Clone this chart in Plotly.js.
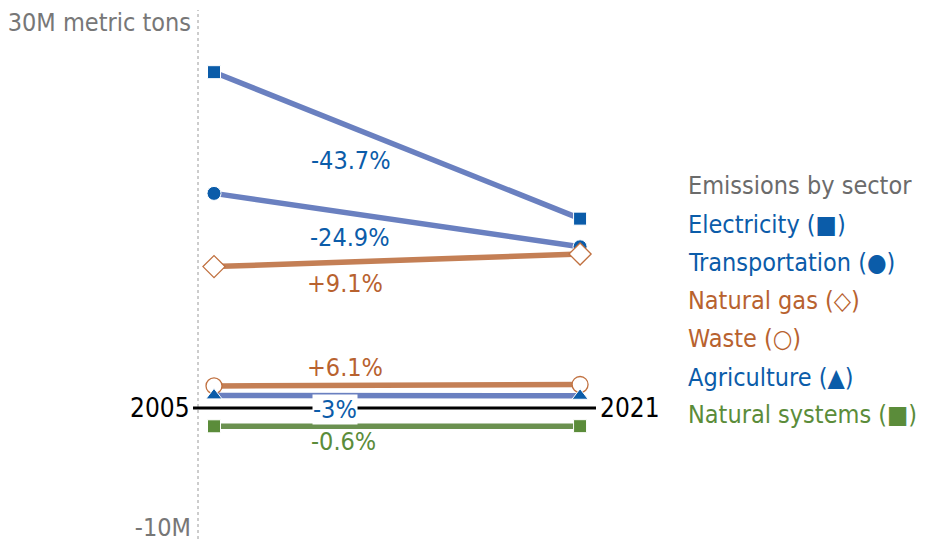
<!DOCTYPE html>
<html>
<head>
<meta charset="utf-8">
<script src="https://cdn.plot.ly/plotly-3.0.1.min.js"></script>
<style>html,body{margin:0;padding:0;background:#fff}#chart{width:948px;height:546px}</style>
</head>
<body>
<div id="chart"></div>
<script>
// Data (millions of metric tons)
const years = [2005, 2021];
const sectors = ["Electricity", "Transportation", "Natural gas", "Waste", "Agriculture", "Natural systems"];
const symbolsText = ["■", "●", "◇", "○", "▲", "■"];
const electricity = [26.6, 15.0];
const transportation = [17.0, 12.77];
const naturalGas = [11.2, 12.2];
const waste = [1.75, 1.86];
const agriculture = [1.0, 0.97];
const naturalSystems = [-1.45, -1.44];
const changeLabels = ["-43.7%", "-24.9%", "+9.1%", "+6.1%", "-3%", "-0.6%"];
const yTickVals = [30, -10];
const yTickText = ["30M metric tons", "-10M"];
const legendTitle = "Emissions by sector";

const FONT = '"DejaVu Sans Condensed", "Liberation Sans Narrow", "Liberation Sans", sans-serif';
const BLUE = "#0b5ca9", BLUE_LINE = "#6a80c0";
const ORANGE = "#b8622f", ORANGE_LINE = "#c47f55", ORANGE_MK = "#c0703f";
const GREEN = "#5b8c3a", GREEN_LINE = "#6b9150";

const seriesValues = [electricity, transportation, naturalGas, waste, agriculture, naturalSystems];
const lineColors = [BLUE_LINE, BLUE_LINE, ORANGE_LINE, ORANGE_LINE, BLUE_LINE, GREEN_LINE];
const textColors = [BLUE, BLUE, ORANGE, ORANGE, BLUE, GREEN];
const markers = [
  {symbol: "square", size: 13, color: BLUE, line: {color: "#fff", width: 1}},
  {symbol: "circle", size: 14, color: BLUE, line: {color: "#fff", width: 1}},
  {symbol: "diamond", size: 17, color: "#fff", line: {color: ORANGE_MK, width: 1.3}},
  {symbol: "circle", size: 16, color: "#fff", line: {color: ORANGE_MK, width: 1.3}},
  {symbol: "triangle-up", size: 14, color: BLUE, line: {color: "#fff", width: 1}},
  {symbol: "square", size: 13, color: GREEN, line: {color: "#fff", width: 1}}
];

const traces = sectors.map((s, i) => ({
  type: "scatter", mode: "lines+markers", name: s,
  x: years, y: seriesValues[i],
  line: {color: lineColors[i], width: 5.5},
  marker: markers[i],
  showlegend: false, hoverinfo: "skip"
}));

// label positions (style)
const labelPos = [[2011.0, 19.64], [2010.95, 13.47], [2010.73, 9.9], [2010.73, 3.17], [2010.3, -0.08], [2010.64, -2.69]];
const annotations = [];
changeLabels.forEach((t, i) => {
  annotations.push({
    x: labelPos[i][0], y: labelPos[i][1], xref: "x", yref: "y", text: t, showarrow: false,
    font: {family: FONT, size: 25, color: textColors[i]},
    bgcolor: i === 4 ? "#fff" : "rgba(0,0,0,0)", borderpad: 0
  });
});
annotations.push({x: -0.015, y: 0, xref: "paper", yref: "y", xanchor: "right", yanchor: "middle",
  text: String(years[0]), showarrow: false, font: {family: FONT, size: 26, color: "#000"}});
annotations.push({x: 1.003, y: 0, xref: "paper", yref: "y", xanchor: "left", yanchor: "middle",
  text: String(years[1]), showarrow: false, font: {family: FONT, size: 26, color: "#000"}});
// legend
const legendY = [14.57, 11.56, 8.55, 5.47, 2.38, -0.48];
annotations.push({x: 1.223, y: 17.66, xref: "paper", yref: "y", xanchor: "left", yanchor: "middle",
  text: legendTitle, showarrow: false, font: {family: FONT, size: 25, color: "#6b6b6b"}});
sectors.forEach((s, i) => {
  annotations.push({x: 1.223, y: legendY[i], xref: "paper", yref: "y", xanchor: "left", yanchor: "middle",
    text: s + " (" + symbolsText[i] + ")", showarrow: false, font: {family: FONT, size: 25, color: textColors[i]}});
});

const layout = {
  width: 948, height: 546,
  margin: {l: 198, r: 351, t: 10, b: 7},
  paper_bgcolor: "#fff", plot_bgcolor: "#fff",
  showlegend: false,
  xaxis: {range: [2004.3, 2021.74], visible: false, fixedrange: true},
  yaxis: {range: [-10.376, 31.525], tickvals: yTickVals, ticktext: yTickText,
    showgrid: false, zeroline: false, showline: false, ticks: "",
    ticklabelshift: -7, ticklabelstandoff: 6,
    tickfont: {family: FONT, size: 25, color: "#777"}, fixedrange: true},
  shapes: [
    {type: "line", xref: "paper", yref: "paper", x0: 0, x1: 0, y0: 0, y1: 1,
      line: {color: "#9a9a9a", width: 1, dash: "dot"}, layer: "below"},
    {type: "line", xref: "paper", yref: "y", x0: -0.0125, x1: 0.9975, y0: 0, y1: 0,
      line: {color: "#000", width: 3}, layer: "below"}
  ],
  annotations: annotations
};

Plotly.newPlot("chart", traces, layout, {displayModeBar: false, staticPlot: true});
</script>
</body>
</html>
